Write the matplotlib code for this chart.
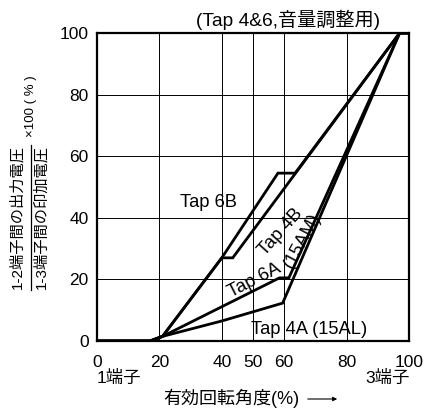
import matplotlib
matplotlib.use("Agg")
import matplotlib.pyplot as plt
from matplotlib.lines import Line2D
from matplotlib.patches import FancyArrowPatch

plt.rcParams['font.family'] = ['Liberation Sans', 'Noto Sans CJK JP', 'DejaVu Sans']

# 回転角度 (%) と 出力電圧比 (%)
x_6B = [0, 17, 21, 40, 58, 63.5, 97, 100]
y_6B = [0, 0, 1.5, 27, 54.5, 54.5, 100, 100]
x_4B = [0, 17, 21, 40, 43.5, 97, 100]
y_4B = [0, 0, 1.5, 27, 27, 100, 100]
x_6A = [0, 17, 21, 58.5, 61.5, 97, 100]
y_6A = [0, 0, 1.5, 20.5, 20.5, 100, 100]
x_4A = [0, 17, 21, 40, 59.5, 97, 100]
y_4A = [0, 0, 1.5, 6.5, 12.3, 100, 100]

xticks = [0, 20, 40, 50, 60, 80, 100]
yticks = [0, 20, 40, 60, 80, 100]

W, H = 428, 408
fig = plt.figure(figsize=(W/100, H/100), dpi=100)
ax = fig.add_axes([97/W, 1-341/H, (409-97)/W, (341-33)/H])

for xs, ys in [(x_6B, y_6B), (x_4B, y_4B), (x_6A, y_6A), (x_4A, y_4A)]:
    ax.plot(xs, ys, color="black", lw=2.0, solid_joinstyle="miter", zorder=3)

ax.set_xlim(0, 100); ax.set_ylim(0, 100)
ax.set_xticks(xticks); ax.set_yticks(yticks)
ax.set_xticklabels([str(v) for v in xticks])
ax.set_yticklabels([str(v) for v in yticks])
ax.tick_params(length=0, labelsize=12.5)
ax.tick_params(axis="x", pad=10)
ax.tick_params(axis="y", pad=6)
ax.grid(True, color="black", lw=0.7)
for sp in ax.spines.values():
    sp.set_linewidth(1.6)

# 曲線ラベル
fs = 13.2
ax.text(35.6, 45.1, "Tap 6B", fontsize=fs, ha="center", va="center")
ax.text(68, 3.6, "Tap 4A (15AL)", fontsize=fs, ha="center", va="center")
ax.text(50.4, 19.6, "Tap 6A", fontsize=fs, ha="center", va="center", rotation=27)
ax.text(58.8, 35.4, "Tap 4B", fontsize=fs, ha="center", va="center", rotation=48)
ax.text(66.0, 32.8, "(15AM)", fontsize=fs, ha="center", va="center", rotation=62)

def fx(px): return px / W
def fy(py): return 1 - py / H

fig.text(fx(288), fy(20), "(Tap 4&6,音量調整用)", fontsize=13.8, ha="center", va="center")

# 縦軸ラベル(分数表記)
fig.text(fx(17), fy(217), "1-2端子間の出力電圧", fontsize=11, rotation=90,
         ha="center", va="center")
fig.text(fx(41), fy(217), "1-3端子間の印加電圧", fontsize=11, rotation=90,
         ha="center", va="center")
fig.add_artist(Line2D([fx(31), fx(31)], [fy(145), fy(290)], color="black", lw=0.9))
fig.text(fx(31), fy(106), "×100 ( % )", fontsize=9.5, rotation=90,
         ha="center", va="center")

# 横軸ラベル
fig.text(fx(119), fy(378), "1端子", fontsize=12.5, ha="center", va="center")
fig.text(fx(388), fy(378), "3端子", fontsize=12.5, ha="center", va="center")
fig.text(fx(231), fy(398), "有効回転角度(%)", fontsize=13, ha="center", va="center")
fig.add_artist(FancyArrowPatch((fx(305), fy(399)), (fx(340), fy(399)),
                               transform=fig.transFigure, arrowstyle="-|>",
                               mutation_scale=6, lw=0.8, color="black"))

fig.savefig("out.png", dpi=100)
